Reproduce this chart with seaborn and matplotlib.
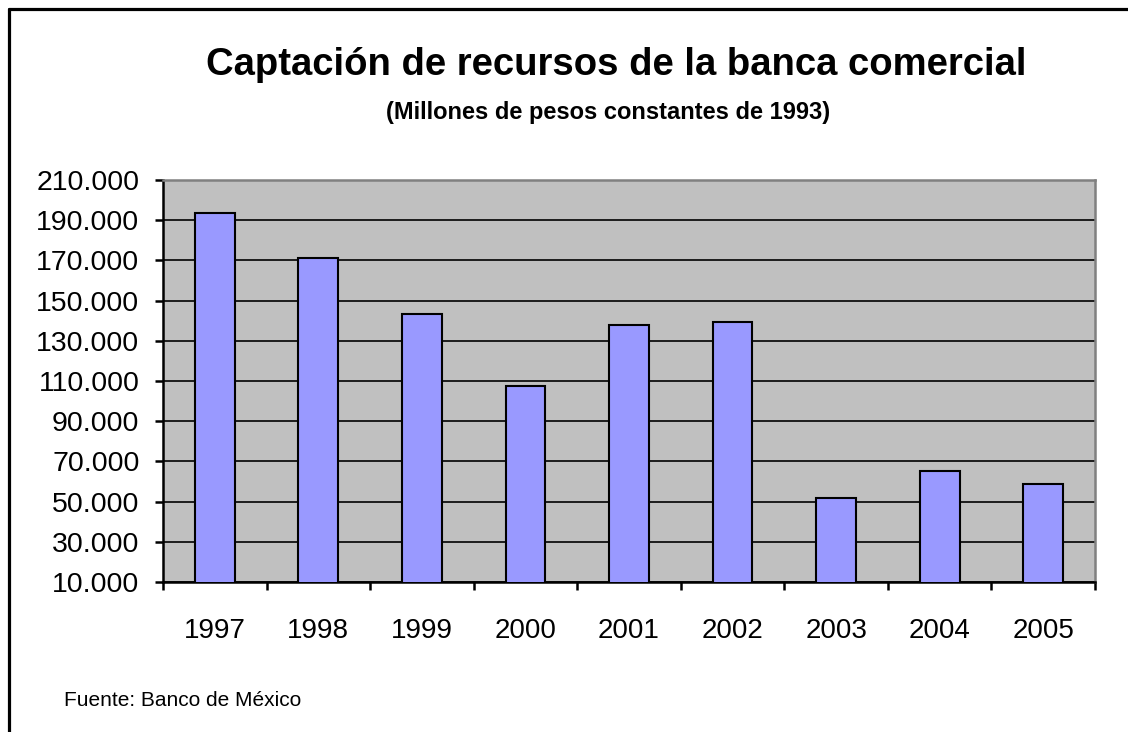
import matplotlib
matplotlib.use("Agg")
import matplotlib.pyplot as plt
from matplotlib.ticker import FuncFormatter, FixedLocator
from matplotlib.lines import Line2D
import seaborn as sns
import pandas as pd

years = ["1997", "1998", "1999", "2000", "2001", "2002", "2003", "2004", "2005"]
values = [193700, 171400, 143500, 107700, 138000, 139500, 52000, 65200, 58600]
yticks = list(range(10000, 210001, 20000))

title = "Captación de recursos de la banca comercial"
subtitle = "(Millones de pesos constantes de 1993)"
source = "Fuente: Banco de México"

sns.set_theme(style="white")
plt.rcParams['font.family'] = ['Liberation Sans', 'DejaVu Sans']

W, H = 1128, 732
fig = plt.figure(figsize=(W / 100, H / 100), dpi=100)
fig.patch.set_facecolor("white")

ax = fig.add_axes([163 / W, 1 - 582 / H, 932 / W, 402 / H])
df = pd.DataFrame({"year": years, "value": values})
sns.barplot(data=df, x="year", y="value", color="#9999FF", saturation=1,
            edgecolor="black", linewidth=1.5, width=0.385, ax=ax, zorder=3)

ax.set_facecolor("#C0C0C0")
ax.set_xlim(-0.5, len(years) - 0.5)
ax.set_ylim(10000, 210000)
ax.set_yticks(yticks)
ax.yaxis.set_major_formatter(FuncFormatter(lambda v, p: f"{int(v):,}".replace(",", ".")))
ax.set_xlabel("")
ax.set_ylabel("")

ax.yaxis.grid(True, color="black", linewidth=1.2, zorder=1)
ax.xaxis.grid(False)
ax.set_axisbelow(True)

for s in ["left", "bottom"]:
    ax.spines[s].set_color("black")
    ax.spines[s].set_linewidth(1.8)
for s in ["top", "right"]:
    ax.spines[s].set_color("#808080")
    ax.spines[s].set_linewidth(1.8)

ax.tick_params(axis="y", which="major", direction="out", length=6, width=1.8,
               color="black", labelsize=20.5, pad=11, left=True)
ax.tick_params(axis="x", which="major", length=0, labelsize=20, pad=26)
ax.xaxis.set_minor_locator(FixedLocator([i - 0.5 for i in range(len(years) + 1)]))
ax.tick_params(axis="x", which="minor", direction="out", length=6, width=1.8,
               color="black", bottom=True)
for lab in ax.get_xticklabels() + ax.get_yticklabels():
    lab.set_color("black")

fig.text(616 / W, 1 - 65 / H, title, ha="center", va="center",
         fontsize=27.5, fontweight="bold", color="black")
fig.text(608 / W, 1 - 112 / H, subtitle, ha="center", va="center",
         fontsize=17, fontweight="bold", color="black")
fig.text(64 / W, 1 - 700 / H, source, ha="left", va="center",
         fontsize=15, color="black")

# outer frame (left, top; right edge lies beyond the image)
fx0, fy1 = 9 / W, 1 - 8.5 / H
fig.add_artist(Line2D([fx0, fx0], [0, fy1], transform=fig.transFigure, color="black", lw=2.3))
fig.add_artist(Line2D([fx0, 1], [fy1, fy1], transform=fig.transFigure, color="black", lw=2.3))

fig.savefig("out.png", dpi=100, facecolor="white")
